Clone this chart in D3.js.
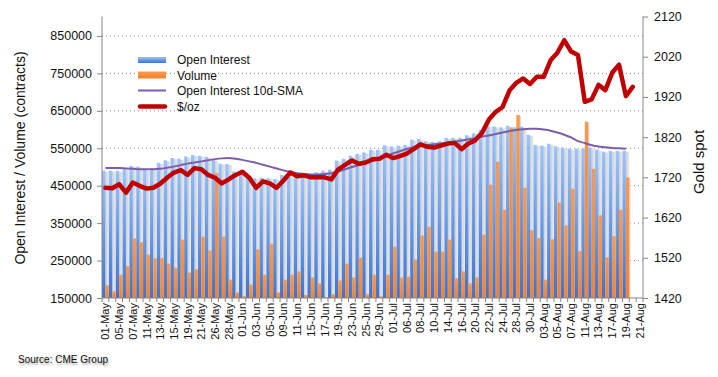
<!DOCTYPE html>
<html>
<head>
<meta charset="utf-8">
<script src="https://cdn.jsdelivr.net/npm/d3@7"></script>
<style>
  body { margin: 0; background: #fff; }
  svg { display: block; font-family: "Liberation Sans", Arial, sans-serif; }
</style>
</head>
<body>
<div id="chart-area"></div>
<script>
// trading days, 01-May to 21-Aug
var dates = ["01-May","04-May","05-May","06-May","07-May","08-May","11-May","12-May","13-May","14-May",
  "15-May","18-May","19-May","20-May","21-May","22-May","26-May","27-May","28-May","29-May",
  "01-Jun","02-Jun","03-Jun","04-Jun","05-Jun","08-Jun","09-Jun","10-Jun","11-Jun","12-Jun",
  "15-Jun","16-Jun","17-Jun","18-Jun","19-Jun","22-Jun","23-Jun","24-Jun","25-Jun","26-Jun",
  "29-Jun","30-Jun","01-Jul","02-Jul","06-Jul","07-Jul","08-Jul","09-Jul","10-Jul","13-Jul",
  "14-Jul","15-Jul","16-Jul","17-Jul","20-Jul","21-Jul","22-Jul","23-Jul","24-Jul","27-Jul",
  "28-Jul","29-Jul","30-Jul","31-Jul","03-Aug","04-Aug","05-Aug","06-Aug","07-Aug","10-Aug",
  "11-Aug","12-Aug","13-Aug","14-Aug","17-Aug","18-Aug","19-Aug","20-Aug","21-Aug"];

// contracts (thousands)
var openInterest = [490,490,490,494,503,501,492,497,511,518,
  524,522,528,532,530,527,520,509,508,488,
  485,479,470,471,470,468,479,475,475,475,
  475,486,490,493,517,522,530,535,539,546,
  546,558,555,557,559,573,575,569,567,569,
  578,578,578,585,590,599,610,608,606,610,
  606,608,586,559,557,562,555,552,549,549,
  550,552,546,541,543,543,543];

var volume = [184,168,212,235,309,299,266,256,257,242,
  231,306,218,227,314,277,484,314,199,165,
  155,186,280,212,295,165,199,212,221,158,
  205,189,152,160,197,242,205,258,160,212,
  155,212,287,205,207,253,317,340,274,274,
  306,203,221,189,205,319,453,514,386,605,
  639,445,331,310,199,307,405,344,442,275,
  621,495,371,259,315,386,472];

var oiSma = [497,497,497,496,495,494,494,494,495,498,
  501,505,509,512,515,518,521,523,524,522,
  519,515,511,506,501,496,491,487,483,481,
  480,480,481,483,488,494,500,505,510,516,
  522,529,536,542,548,553,556,559,561,563,
  565,567,571,574,577,581,584,588,592,596,
  599,601,602,602,600,597,592,586,579,569,
  564,558,555,553,551,550,549];

// $/oz
var gold = [1694,1693,1703,1682,1707,1699,1692,1694,1704,1719,
  1732,1738,1726,1743,1740,1726,1719,1705,1715,1726,
  1734,1719,1694,1710,1705,1694,1712,1732,1723,1725,
  1720,1720,1720,1715,1740,1751,1762,1754,1757,1765,
  1766,1776,1768,1773,1779,1790,1802,1796,1794,1799,
  1804,1806,1790,1804,1812,1831,1864,1883,1895,1936,
  1955,1966,1952,1970,1970,2011,2030,2061,2033,2024,
  1908,1914,1950,1937,1980,2000,1922,1945];

var leftTicks = [150000,250000,350000,450000,550000,650000,750000,850000];
var rightTicks = [1420,1520,1620,1720,1820,1920,2020,2120];

var width = 718, height = 377;
var plot = { left: 102, right: 643, top: 16.5, bottom: 298 };

var svg = d3.select("#chart-area").append("svg")
    .attr("width", width)
    .attr("height", height);

var defs = svg.append("defs");
var gBlue = defs.append("linearGradient").attr("id", "blueGrad").attr("x1", 0).attr("y1", 0).attr("x2", 0).attr("y2", 1);
gBlue.append("stop").attr("offset", "0%").attr("stop-color", "#9cc3fb");
gBlue.append("stop").attr("offset", "100%").attr("stop-color", "#3b74d2");
var gOrange = defs.append("linearGradient").attr("id", "orangeGrad").attr("x1", 0).attr("y1", 0).attr("x2", 0).attr("y2", 1);
gOrange.append("stop").attr("offset", "0%").attr("stop-color", "#f99a4e");
gOrange.append("stop").attr("offset", "100%").attr("stop-color", "#f4822f");
var gShadow = defs.append("linearGradient").attr("id", "shadowGrad").attr("x1", 0).attr("y1", 0).attr("x2", 1).attr("y2", 0);
gShadow.append("stop").attr("offset", "0%").attr("stop-color", "#cfcfcf");
gShadow.append("stop").attr("offset", "100%").attr("stop-color", "#ececec");

// Scales
var x = d3.scaleBand().domain(dates).range([plot.left, plot.right]).padding(0);
var bw = x.bandwidth();
var yL = d3.scaleLinear().domain([150000, 902000]).range([plot.bottom, plot.top]);
var yR = d3.scaleLinear().domain([1420, 2120]).range([plot.bottom, plot.top]);

// Gridlines
svg.append("g").selectAll("line")
    .data(leftTicks.slice(1))
    .enter().append("line")
    .attr("x1", plot.left).attr("x2", plot.right)
    .attr("y1", d => yL(d)).attr("y2", d => yL(d))
    .attr("stroke", "#8c8c8c")
    .attr("stroke-width", 1)
    .attr("stroke-dasharray", "1,3");

// Bars
var oiData = openInterest.map((v, i) => ({ d: dates[i], v: v * 1000 }));
var volData = volume.map((v, i) => ({ d: dates[i], v: v * 1000 }));

svg.append("g").selectAll("rect")
    .data(volData)
    .enter().append("rect")
    .attr("x", d => x(d.d) + bw / 2 + 1.2)
    .attr("y", d => yL(d.v) + 1)
    .attr("width", bw / 2)
    .attr("height", d => plot.bottom - yL(d.v) - 1)
    .attr("fill", "#d9d9d9");

svg.append("g").selectAll("rect")
    .data(oiData)
    .enter().append("rect")
    .attr("x", d => x(d.d) + bw / 2)
    .attr("y", d => yL(d.v) + 1)
    .attr("width", bw / 2)
    .attr("height", d => plot.bottom - yL(d.v) - 1)
    .attr("fill", "url(#shadowGrad)");

svg.append("g").selectAll("rect")
    .data(oiData)
    .enter().append("rect")
    .attr("x", d => x(d.d))
    .attr("y", d => yL(d.v))
    .attr("width", bw / 2)
    .attr("height", d => plot.bottom - yL(d.v))
    .attr("fill", "url(#blueGrad)");

svg.append("g").selectAll("rect")
    .data(volData)
    .enter().append("rect")
    .attr("x", d => x(d.d) + bw / 2)
    .attr("y", d => yL(d.v))
    .attr("width", bw / 2)
    .attr("height", d => plot.bottom - yL(d.v))
    .attr("fill", "url(#orangeGrad)");

// Lines
var smaLine = d3.line()
    .x((d, i) => x(dates[i]) + bw / 2)
    .y(d => yL(d * 1000))
    .curve(d3.curveMonotoneX);
svg.append("path")
    .datum(oiSma)
    .attr("d", smaLine)
    .attr("fill", "none")
    .attr("stroke", "#7b5ea7")
    .attr("stroke-width", 2);

var goldLine = d3.line()
    .x((d, i) => x(dates[i]) + bw / 2)
    .y(d => yR(d));
svg.append("path")
    .datum(gold)
    .attr("d", goldLine)
    .attr("fill", "none")
    .attr("stroke", "#c00000")
    .attr("stroke-width", 4.5)
    .attr("stroke-linejoin", "round")
    .attr("stroke-linecap", "round");

// Axes
var leftAxis = svg.append("g")
    .attr("transform", `translate(${plot.left},0)`)
    .call(d3.axisLeft(yL).tickValues(leftTicks).tickSize(5).tickPadding(5).tickFormat(d3.format("d")));
var rightAxis = svg.append("g")
    .attr("transform", `translate(${plot.right},0)`)
    .call(d3.axisRight(yR).tickValues(rightTicks).tickSize(5).tickPadding(6).tickFormat(d3.format("d")));
[leftAxis, rightAxis].forEach(a => {
    a.select(".domain").attr("stroke", "#868686").attr("d", null);
    a.selectAll(".tick line").attr("stroke", "#868686");
    a.selectAll(".tick text").attr("font-size", "12.5px").attr("fill", "#111")
        .attr("font-family", "'Liberation Sans', Arial, sans-serif");
});
leftAxis.append("line").attr("y1", plot.top).attr("y2", plot.bottom).attr("stroke", "#868686");
rightAxis.append("line").attr("y1", plot.top).attr("y2", plot.bottom).attr("stroke", "#868686");

// Category axis
var xAxis = svg.append("g");
xAxis.append("line")
    .attr("x1", plot.left).attr("x2", plot.right)
    .attr("y1", plot.bottom).attr("y2", plot.bottom)
    .attr("stroke", "#868686");
xAxis.selectAll("line.tk")
    .data(dates.concat(["end"]))
    .enter().append("line")
    .attr("class", "tk")
    .attr("x1", (d, i) => plot.left + i * bw).attr("x2", (d, i) => plot.left + i * bw)
    .attr("y1", plot.bottom).attr("y2", plot.bottom + 4)
    .attr("stroke", "#868686");
xAxis.selectAll("text")
    .data(dates.filter((d, i) => i % 2 === 0))
    .enter().append("text")
    .attr("transform", d => `translate(${x(d) + bw / 2 + 4},${plot.bottom + 5}) rotate(-90)`)
    .attr("text-anchor", "end")
    .attr("font-size", "11px")
    .attr("fill", "#111")
    .text(d => d);

// Axis titles
svg.append("text")
    .attr("transform", `translate(25,158) rotate(-90)`)
    .attr("text-anchor", "middle")
    .attr("font-size", "14px")
    .attr("fill", "#111")
    .text("Open Interest / Volume (contracts)");
svg.append("text")
    .attr("transform", `translate(704,162) rotate(-90)`)
    .attr("text-anchor", "middle")
    .attr("font-size", "15px")
    .attr("fill", "#111")
    .text("Gold spot");

// Source
svg.append("text")
    .attr("x", 18).attr("y", 363)
    .attr("font-size", "10px")
    .attr("fill", "#111")
    .style("text-shadow", "1px 2px 2px rgba(0,0,0,0.35)")
    .text("Source: CME Group");

// Legend
var legend = svg.append("g").attr("transform", "translate(138,0)");
legend.append("rect").attr("x", 0).attr("y", 57).attr("width", 28).attr("height", 6).attr("fill", "url(#blueGrad)");
legend.append("rect").attr("x", 0).attr("y", 71.5).attr("width", 28).attr("height", 7).attr("fill", "url(#orangeGrad)");
legend.append("line").attr("x1", 0).attr("x2", 28).attr("y1", 90.5).attr("y2", 90.5)
    .attr("stroke", "#7b5ea7").attr("stroke-width", 2);
legend.append("line").attr("x1", 2).attr("x2", 27).attr("y1", 106.5).attr("y2", 106.5)
    .attr("stroke", "#c00000").attr("stroke-width", 4.5).attr("stroke-linecap", "round");
["Open Interest", "Volume", "Open Interest 10d-SMA", "$/oz"].forEach((t, i) => {
    legend.append("text")
        .attr("x", 39)
        .attr("y", [64, 79.5, 95, 111][i])
        .attr("font-size", "12px")
        .attr("fill", "#111")
        .text(t);
});
</script>
</body>
</html>
